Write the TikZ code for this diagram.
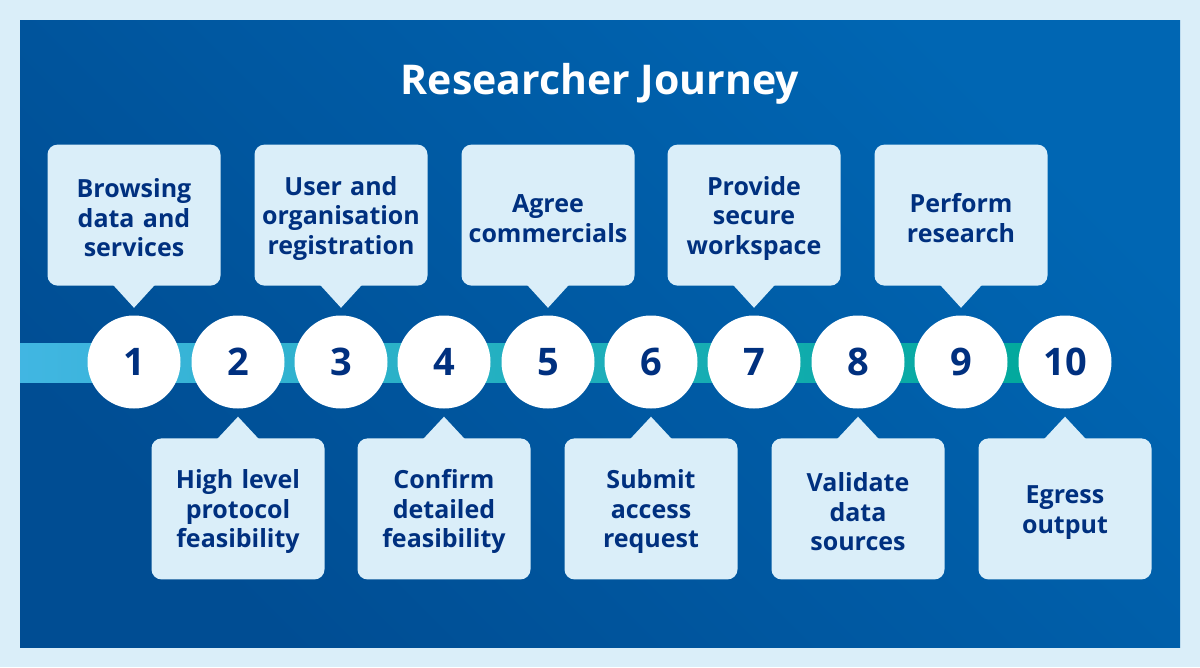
\documentclass[tikz,border=0pt]{standalone}
\usepackage{fontspec}
\setmainfont{Open Sans}
\usetikzlibrary{positioning}

\definecolor{pagebg}{HTML}{DAEEF9}
\definecolor{paneldark}{HTML}{004D93}
\definecolor{panellight}{HTML}{0066B3}
\definecolor{barleft}{HTML}{41B6E2}
\definecolor{barright}{HTML}{00A89A}
\definecolor{boxfill}{HTML}{DAEEF9}
\definecolor{navy}{HTML}{00307F}

\tikzset{
  stepnum/.style={circle, fill=white, minimum size=93pt, inner sep=0pt, text=navy,
    font=\bfseries\fontsize{38pt}{38pt}\selectfont},
  stepbox/.style={rectangle, rounded corners=10pt, fill=boxfill, minimum width=173pt,
    minimum height=141pt, text width=170pt, align=center, inner sep=0pt, text=navy,
    font=\bfseries\fontsize{25pt}{29.5pt}\selectfont,
    execute at begin node={\rule{0pt}{25pt}}},
  pointer/.style={fill=boxfill},
}

\begin{document}
\begin{tikzpicture}[x=1pt, y=-1pt, node distance=29.5pt]
      \useasboundingbox (0,0) rectangle (1200,667);
      \fill[pagebg] (0,0) rectangle (1200,667);
      \shade[top color=panellight, bottom color=paneldark, shading angle=-45] (20,20) rectangle (1180,647);

      \node[text=white, font=\bfseries\fontsize{41pt}{41pt}\selectfont] (title) at (600,84) {Researcher Journey};

      % timeline
      \shade[left color=barleft, right color=barright] (20,343) rectangle (1065,382);

      \node[stepnum] (c1) at (134,362) {1};
      \node[stepnum] (c2) at (238,362) {2};
      \node[stepnum] (c3) at (341,362) {3};
      \node[stepnum] (c4) at (444,362) {4};
      \node[stepnum] (c5) at (548,362) {5};
      \node[stepnum] (c6) at (651,362) {6};
      \node[stepnum] (c7) at (754,362) {7};
      \node[stepnum] (c8) at (858,362) {8};
      \node[stepnum] (c9) at (961,362) {9};
      \node[stepnum] (c10) at (1065,362) {10};

      % boxes above
      \node[stepbox, above=of c1] (b1) {Browsing\\data and\\services};
      \node[stepbox, above=of c3] (b3) {User and\\organisation\\registration};
      \node[stepbox, above=of c5] (b5) {Agree\\commercials};
      \node[stepbox, above=of c7] (b7) {Provide\\secure\\workspace};
      \node[stepbox, above=of c9] (b9) {Perform\\research};

      % boxes below
      \node[stepbox, below=of c2] (b2) {High level\\protocol\\feasibility};
      \node[stepbox, below=of c4] (b4) {Confirm\\detailed\\feasibility};
      \node[stepbox, below=of c6] (b6) {Submit\\access\\request};
      \node[stepbox, below=of c8] (b8) {Validate\\data\\sources};
      \node[stepbox, below=of c10] (b10) {Egress\\output};

      \fill[pointer] ([xshift=-21pt,yshift=1pt]b1.south) -- ([yshift=7.5pt]c1.north) -- ([xshift=21pt,yshift=1pt]b1.south) -- cycle;
      \fill[pointer] ([xshift=-21pt,yshift=1pt]b3.south) -- ([yshift=7.5pt]c3.north) -- ([xshift=21pt,yshift=1pt]b3.south) -- cycle;
      \fill[pointer] ([xshift=-21pt,yshift=1pt]b5.south) -- ([yshift=7.5pt]c5.north) -- ([xshift=21pt,yshift=1pt]b5.south) -- cycle;
      \fill[pointer] ([xshift=-21pt,yshift=1pt]b7.south) -- ([yshift=7.5pt]c7.north) -- ([xshift=21pt,yshift=1pt]b7.south) -- cycle;
      \fill[pointer] ([xshift=-21pt,yshift=1pt]b9.south) -- ([yshift=7.5pt]c9.north) -- ([xshift=21pt,yshift=1pt]b9.south) -- cycle;

      \fill[pointer] ([xshift=-21pt,yshift=-1pt]b2.north) -- ([yshift=-8pt]c2.south) -- ([xshift=21pt,yshift=-1pt]b2.north) -- cycle;
      \fill[pointer] ([xshift=-21pt,yshift=-1pt]b4.north) -- ([yshift=-8pt]c4.south) -- ([xshift=21pt,yshift=-1pt]b4.north) -- cycle;
      \fill[pointer] ([xshift=-21pt,yshift=-1pt]b6.north) -- ([yshift=-8pt]c6.south) -- ([xshift=21pt,yshift=-1pt]b6.north) -- cycle;
      \fill[pointer] ([xshift=-21pt,yshift=-1pt]b8.north) -- ([yshift=-8pt]c8.south) -- ([xshift=21pt,yshift=-1pt]b8.north) -- cycle;
      \fill[pointer] ([xshift=-21pt,yshift=-1pt]b10.north) -- ([yshift=-8pt]c10.south) -- ([xshift=21pt,yshift=-1pt]b10.north) -- cycle;
\end{tikzpicture}
\end{document}
